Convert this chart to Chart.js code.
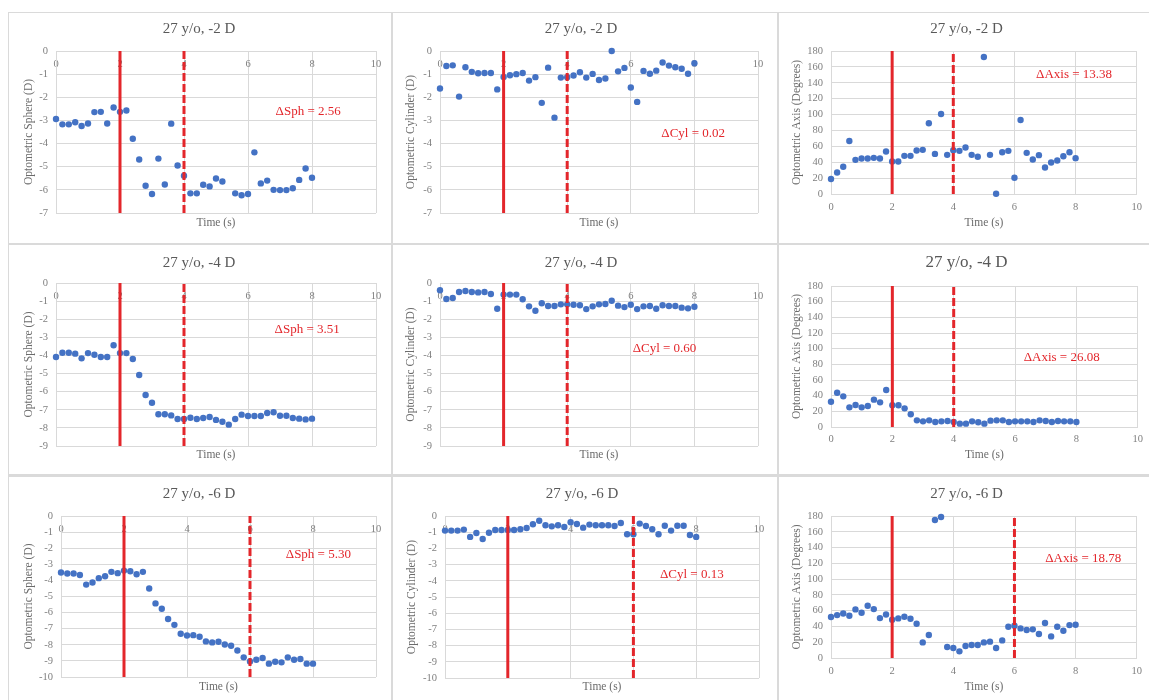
<!DOCTYPE html>
<html>
<head>
<meta charset="utf-8">
<script src="https://cdn.jsdelivr.net/npm/chart.js@4"></script>
<style>
  body { margin: 0; width: 1149px; height: 700px; overflow: hidden; position: relative; background: #fff; }
  #frame { position: absolute; left: 8px; top: 12px; right: 0; bottom: 0; background: #dadada; }
  .cell { position: absolute; background: #fff; }
  .cell canvas { display: block; }
</style>
</head>
<body>
<div id="frame"></div>
<script>
// time stamps (s), one reading every 0.2 s
const TIME = [0, 0.2, 0.4, 0.6, 0.8, 1, 1.2, 1.4, 1.6, 1.8, 2, 2.2, 2.4, 2.6, 2.8, 3, 3.2, 3.4, 3.6, 3.8,
  4, 4.2, 4.4, 4.6, 4.8, 5, 5.2, 5.4, 5.6, 5.8, 6, 6.2, 6.4, 6.6, 6.8, 7, 7.2, 7.4, 7.6, 7.8, 8];

// -2 D stimulus
const SPH_2 = [-2.94, -3.17, -3.17, -3.08, -3.24, -3.13, -2.64, -2.63, -3.13, -2.44, -2.63, -2.57, -3.79, -4.69,
  -5.82, -6.18, -4.65, -5.77, -3.14, -4.95, -5.39, -6.15, -6.15, -5.78, -5.85, -5.51, -5.64, null, -6.15, -6.23,
  -6.18, -4.38, -5.72, -5.60, -6.00, -6.01, -6.01, -5.93, -5.57, -5.08, -5.48];
const CYL_2 = [-1.62, -0.65, -0.62, -1.97, -0.70, -0.90, -0.96, -0.95, -0.95, -1.66, -1.12, -1.05, -1.00, -0.95,
  -1.28, -1.13, -2.24, -0.72, -2.88, -1.15, -1.13, -1.06, -0.92, -1.15, -0.99, -1.25, -1.19, 0.00, -0.88, -0.73,
  -1.58, -2.20, -0.86, -0.98, -0.85, -0.50, -0.63, -0.70, -0.77, -0.98, -0.53];
const AXIS_2 = [18.8, 27.1, 34.3, 66.8, 43.0, 44.7, 44.7, 45.5, 44.7, 53.5, 40.9, 40.9, 48.0, 48.0, 54.7, 55.6,
  89.0, 50.5, 100.7, 49.3, 55.1, 54.3, 58.5, 49.3, 46.8, 172.5, 49.3, 0.4, 52.6, 54.3, 20.5, 93.2, 51.8, 43.4,
  48.9, 33.4, 39.7, 42.2, 47.6, 52.6, 45.1];

// -4 D stimulus
const SPH_4 = [-4.09, -3.85, -3.85, -3.90, -4.16, -3.87, -3.96, -4.09, -4.09, -3.44, -3.87, -3.87, -4.20, -5.08,
  -6.18, -6.61, -7.25, -7.25, -7.31, -7.51, -7.51, -7.44, -7.51, -7.45, -7.40, -7.56, -7.66, -7.82, -7.51, -7.27,
  -7.34, -7.34, -7.34, -7.18, -7.14, -7.33, -7.33, -7.45, -7.49, -7.53, -7.49];
const CYL_4 = [-0.40, -0.88, -0.83, -0.50, -0.44, -0.50, -0.52, -0.50, -0.61, -1.42, -0.64, -0.64, -0.64, -0.90,
  -1.29, -1.53, -1.12, -1.27, -1.27, -1.18, -1.18, -1.20, -1.23, -1.44, -1.29, -1.18, -1.16, -0.98, -1.25, -1.33,
  -1.20, -1.44, -1.29, -1.27, -1.42, -1.23, -1.27, -1.27, -1.36, -1.40, -1.31];
const AXIS_4 = [32.3, 43.8, 39.1, 25.1, 28.1, 25.1, 26.8, 34.9, 31.5, 47.2, 27.7, 27.7, 23.8, 16.2, 8.5, 7.2,
  8.5, 6.4, 7.2, 7.7, 6.4, 4.3, 4.3, 7.2, 6.0, 4.3, 8.1, 8.5, 8.5, 6.4, 7.2, 7.2, 7.2, 6.4, 8.5, 7.7, 6.4, 7.7,
  7.2, 7.2, 6.4];

// -6 D stimulus
const SPH_6 = [-3.51, -3.57, -3.57, -3.66, -4.26, -4.13, -3.86, -3.74, -3.47, -3.55, -3.39, -3.43, -3.62, -3.47,
  -4.50, -5.43, -5.76, -6.40, -6.76, -7.31, -7.42, -7.40, -7.50, -7.79, -7.85, -7.81, -7.98, -8.06, -8.35, -8.78,
  -9.03, -8.93, -8.82, -9.17, -9.05, -9.09, -8.78, -8.93, -8.88, -9.17, -9.17];
const CYL_6 = [-0.90, -0.90, -0.90, -0.84, -1.29, -1.05, -1.42, -1.03, -0.86, -0.86, -0.86, -0.86, -0.82, -0.74,
  -0.51, -0.29, -0.57, -0.64, -0.57, -0.68, -0.39, -0.49, -0.72, -0.53, -0.57, -0.57, -0.57, -0.62, -0.43, -1.13,
  -1.13, -0.47, -0.62, -0.82, -1.13, -0.60, -0.90, -0.60, -0.60, -1.17, -1.29];
const AXIS_6 = [51.9, 54.4, 56.5, 53.5, 61.6, 57.3, 66.2, 62.0, 50.6, 55.2, 48.5, 50.2, 52.3, 49.7, 43.4, 19.8,
  29.1, 175.0, 178.8, 13.9, 12.6, 8.4, 15.2, 16.4, 16.4, 19.8, 20.7, 12.6, 22.3, 39.6, 40.9, 37.5, 35.4, 36.3,
  30.4, 44.3, 27.4, 39.6, 34.6, 41.7, 42.2];

// stimulus onset (solid line) and end of response window (dashed line)
const ONSET = [2, 2, 2, 2, 2, 2, 2, 2, 2];
const WINDOW_END = [4, 4, 4, 4, 4, 4, 6, 6, 6];
const DELTAS = ['ΔSph = 2.56', 'ΔCyl = 0.02', 'ΔAxis = 13.38',
                'ΔSph = 3.51', 'ΔCyl = 0.60', 'ΔAxis = 26.08',
                'ΔSph = 5.30', 'ΔCyl = 0.13', 'ΔAxis = 18.78'];
const TITLES = ['27 y/o, -2 D', '27 y/o, -2 D', '27 y/o, -2 D',
                '27 y/o, -4 D', '27 y/o, -4 D', '27 y/o, -4 D',
                '27 y/o, -6 D', '27 y/o, -6 D', '27 y/o, -6 D'];
const SERIES = [SPH_2, CYL_2, AXIS_2, SPH_4, CYL_4, AXIS_4, SPH_6, CYL_6, AXIS_6];

const SERIF = '"Liberation Serif", "Times New Roman", serif';
const BLUE = '#4472c4';
const RED = '#e3262b';
const GRID = '#d9d9d9';

const COLS = [[9, 382], [393, 384], [779, 370]];
const ROWS = [[13, 230], [245, 229], [477, 223]];

// layout per panel: plot area [left, right, top, bottom], title centre y, y-title centre x, "Time" centre y
const PANELS = [
  { kind: 'sph', yMin: -7, area: [56, 376, 51, 213], titleY: 29, yTitleX: 29, timeY: 223, deltaAt: [7.88, -2.6] },
  { kind: 'cyl', yMin: -7, area: [440, 758, 51, 213], titleY: 29, yTitleX: 411, timeY: 223, deltaAt: [7.96, -3.56] },
  { kind: 'axis', area: [831, 1143, 51, 194], titleY: 29, yTitleX: 797, timeY: 223, tickPad: 7, deltaAt: [7.95, 150.8] },
  { kind: 'sph', yMin: -9, area: [56, 376, 283, 446], titleY: 263, yTitleX: 29, timeY: 455, deltaAt: [7.85, -2.58] },
  { kind: 'cyl', yMin: -9, area: [440, 758, 283, 446], titleY: 263, yTitleX: 411, timeY: 455, deltaAt: [7.06, -3.63] },
  { kind: 'axis', area: [831, 1143, 286, 427], titleY: 263, yTitleX: 797, timeY: 455, tickPad: 6, titleSize: 17, deltaAt: [7.52, 88] },
  { kind: 'sph', yMin: -10, area: [61, 376, 516, 677], titleY: 494, yTitleX: 29, timeY: 687, deltaAt: [8.17, -2.42] },
  { kind: 'cyl', yMin: -10, area: [445, 759, 516, 678], titleY: 494, yTitleX: 412, timeY: 687, deltaAt: [7.86, -3.63] },
  { kind: 'axis', area: [831, 1143, 516, 658], titleY: 494, yTitleX: 797, timeY: 687, tickPad: 7, deltaAt: [8.25, 125.6] }
];

const Y_LABELS = { sph: 'Optometric Sphere (D)', cyl: 'Optometric Cylinder (D)', axis: 'Optometric Axis (Degrees)' };

const deltaLabel = {
  id: 'deltaLabel',
  afterDatasetsDraw(chart, args, opts) {
    const { ctx, scales: { x, y } } = chart;
    ctx.save();
    ctx.fillStyle = RED;
    ctx.font = '13px ' + SERIF;
    ctx.textAlign = 'center';
    ctx.textBaseline = 'middle';
    ctx.fillText(opts.text, x.getPixelForValue(opts.at[0]), y.getPixelForValue(opts.at[1]));
    ctx.restore();
  }
};

PANELS.forEach((p, i) => {
  const [cx, cw] = COLS[i % 3];
  const [cy, ch] = ROWS[Math.floor(i / 3)];
  const div = document.createElement('div');
  div.className = 'cell';
  div.style.left = cx + 'px';
  div.style.top = cy + 'px';
  div.style.width = cw + 'px';
  div.style.height = ch + 'px';
  const canvas = document.createElement('canvas');
  div.appendChild(canvas);
  document.body.appendChild(div);

  const [L, R, T, B] = p.area;
  const tSize = p.titleSize || 15, tLh = tSize * 1.2;
  const aSize = 11.5, aLh = aSize * 1.2;
  const padTop = p.titleY - cy - tLh / 2;
  const titleGap = T - p.titleY - tLh / 2;
  const padLeft = p.yTitleX - cx - aLh / 2;
  const yWidth = L - cx - padLeft;
  const padRight = cx + cw - R;
  const xHeight = p.timeY - B + aLh / 2;
  const padBottom = cy + ch - B - xHeight;

  const isAxis = p.kind === 'axis';
  const yMin = isAxis ? 0 : p.yMin;
  const yMax = isAxis ? 180 : 0;
  const vals = SERIES[i];

  const tickFont = { family: SERIF, size: 10.5 };
  const axisTitle = { display: true, text: 'Time (s)', color: '#6b6b6b', font: { family: SERIF, size: aSize }, padding: 0 };

  const scales = {
    x: {
      type: 'linear', min: 0, max: 10,
      position: isAxis ? 'bottom' : 'top',
      // sphere/cylinder plots: labels sit just inside the top edge, like the original (mirror stops clipping)
      ticks: { stepSize: 2, color: '#7f7f7f', font: tickFont, maxRotation: 0,
               padding: isAxis ? p.tickPad : 7, mirror: !isAxis },
      grid: { color: GRID, drawTicks: false },
      border: { color: GRID },
      title: isAxis ? axisTitle : { display: false },
      afterFit: s => { s.height = isAxis ? xHeight : 0; }
    },
    y: {
      min: yMin, max: yMax,
      ticks: { stepSize: isAxis ? 20 : 1, color: '#7f7f7f', font: tickFont, padding: 8 },
      grid: { color: GRID, drawTicks: false },
      border: { color: GRID },
      title: { display: true, text: Y_LABELS[p.kind], color: '#6b6b6b', font: { family: SERIF, size: aSize }, padding: 0 },
      afterFit: s => { s.width = yWidth; }
    }
  };
  if (!isAxis) {
    // second x axis only carries the "Time (s)" title under the plot
    scales.xb = {
      type: 'linear', min: 0, max: 10, position: 'bottom',
      ticks: { display: false },
      grid: { display: false },
      border: { display: false },
      title: axisTitle,
      afterFit: s => { s.height = xHeight; }
    };
  }

  new Chart(canvas, {
    type: 'scatter',
    data: {
      datasets: [
        {
          type: 'line', showLine: true, order: 0,
          data: [{ x: ONSET[i], y: yMin }, { x: ONSET[i], y: yMax }],
          borderColor: RED, borderWidth: 3, pointRadius: 0
        },
        {
          type: 'line', showLine: true, order: 0,
          data: [{ x: WINDOW_END[i], y: yMin }, { x: WINDOW_END[i], y: yMax }],
          borderColor: RED, borderWidth: 3, borderDash: [8, 3], pointRadius: 0
        },
        {
          order: 1,
          data: TIME.map((t, k) => ({ x: t, y: vals[k] })),
          backgroundColor: BLUE, borderWidth: 0, pointRadius: 3.2, clip: false
        }
      ]
    },
    options: {
      responsive: true,
      maintainAspectRatio: false,
      animation: false,
      layout: { padding: { left: padLeft, right: padRight, top: padTop, bottom: padBottom } },
      scales: scales,
      plugins: {
        legend: { display: false },
        tooltip: { enabled: false },
        title: {
          display: true, text: TITLES[i], color: '#595959',
          font: { family: SERIF, size: tSize, weight: 'normal' },
          padding: { top: 0, bottom: titleGap }
        },
        deltaLabel: { text: DELTAS[i], at: p.deltaAt }
      }
    },
    plugins: [deltaLabel]
  });
});
</script>
</body>
</html>
